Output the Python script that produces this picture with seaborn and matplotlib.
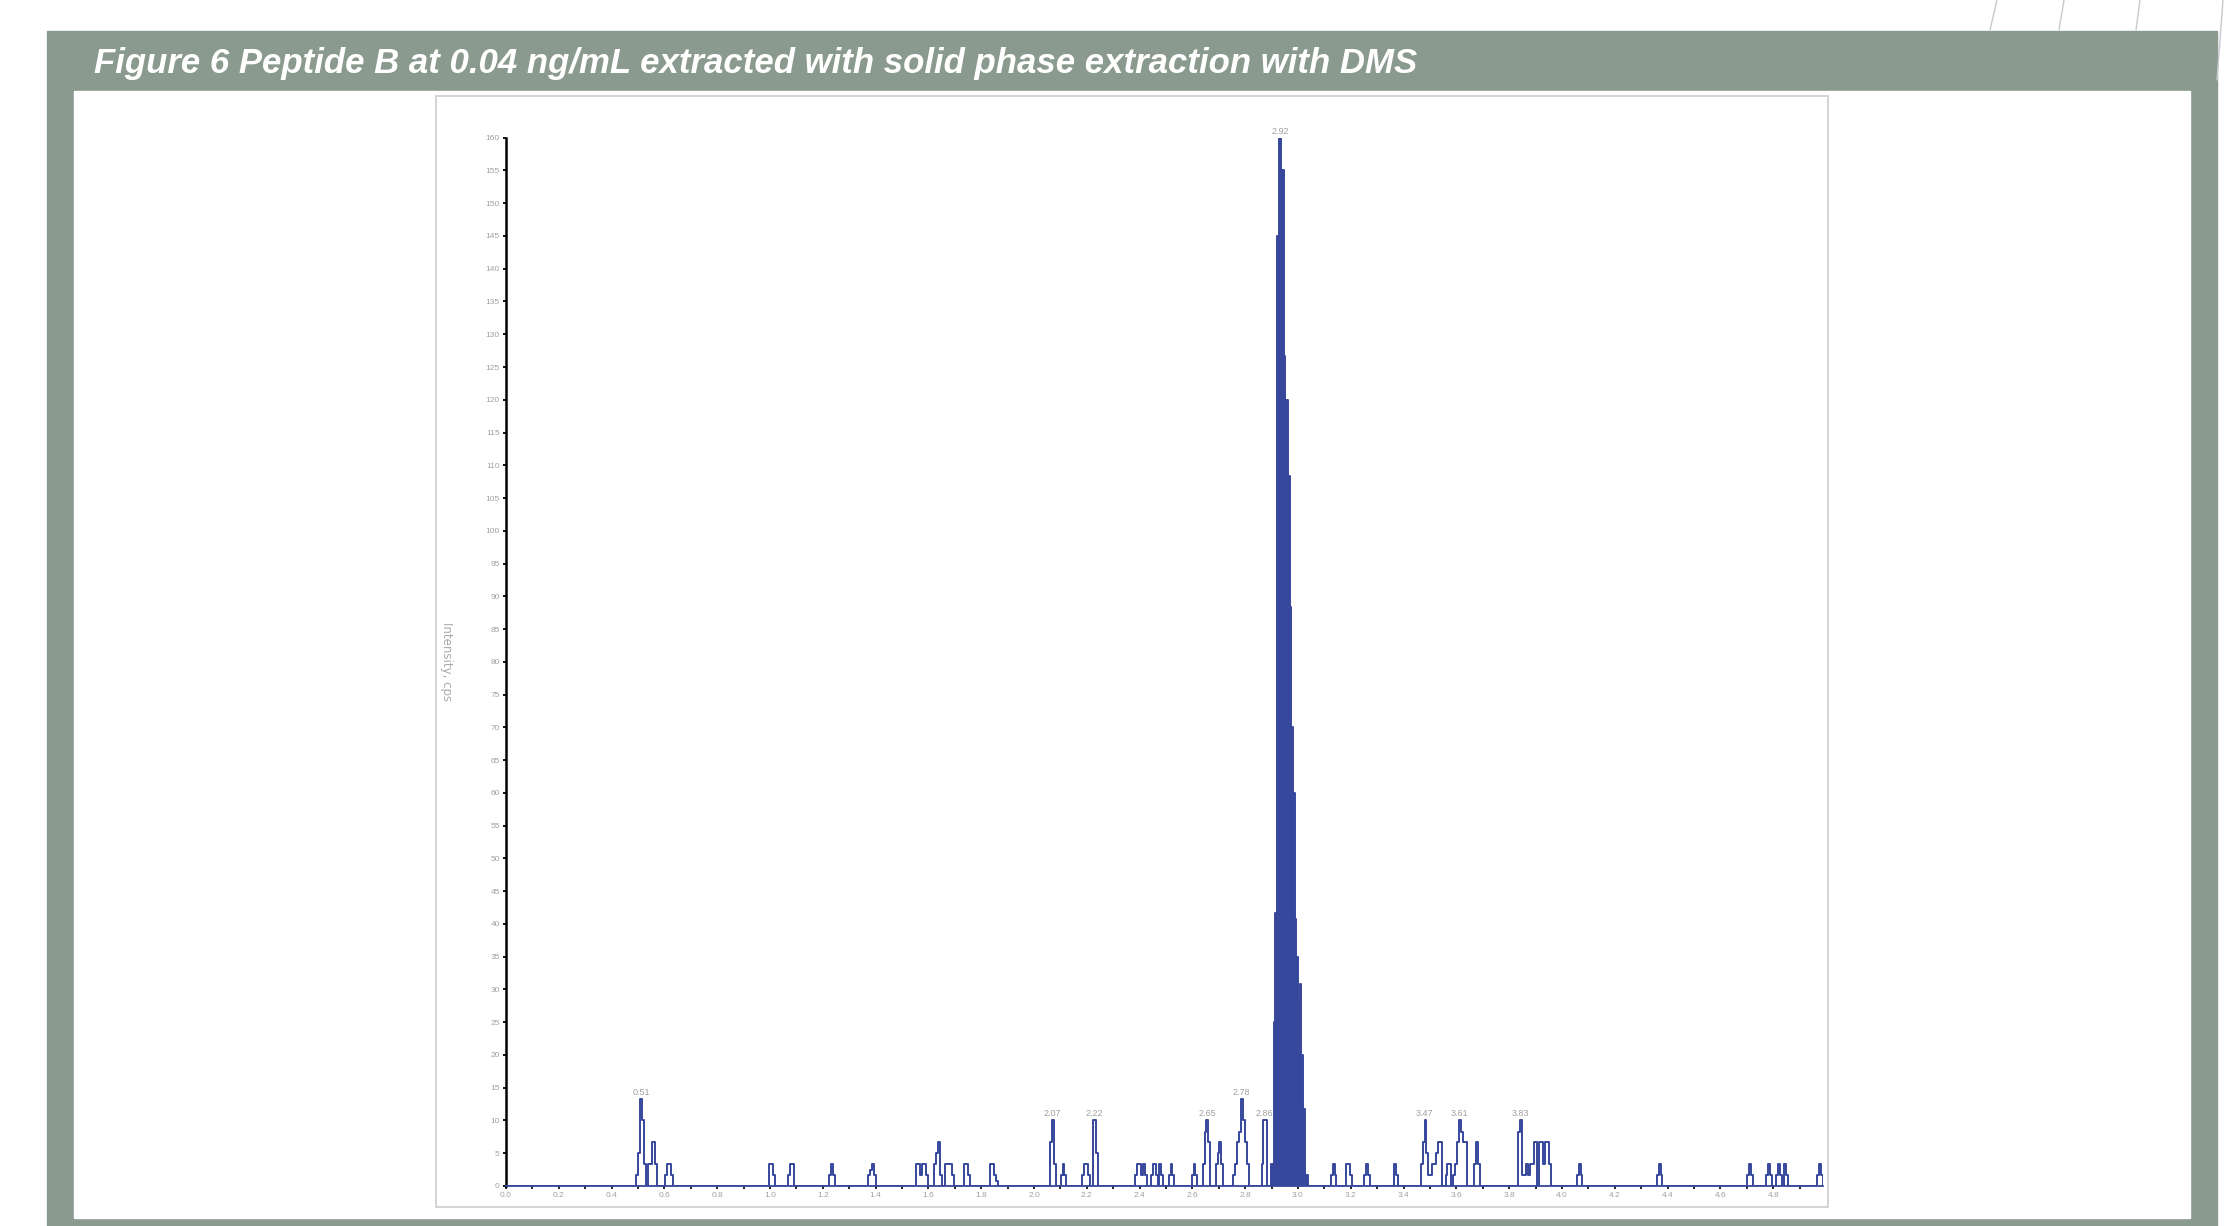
import matplotlib

matplotlib.use("Agg")
import matplotlib.pyplot as plt          # noqa: E402
import pandas as pd                      # noqa: E402
import seaborn as sns                    # noqa: E402
from matplotlib.lines import Line2D      # noqa: E402
from matplotlib.patches import Rectangle  # noqa: E402
from matplotlib.ticker import FormatStrFormatter, MultipleLocator  # noqa: E402

TITLE = "Figure 6 Peptide B at 0.04 ng/mL extracted with solid phase extraction with DMS"
Y_LABEL = "Intensity, cps"

# acquisition cycle of the XIC (min per point)
CYCLE = 0.0072

# noise spikes: start time (min) and the successive step intensities (cps)
NOISE_START = [
    0.494, 0.602, 0.996, 1.069, 1.225, 1.372, 1.554, 1.622, 1.661, 1.735,
    1.833, 2.062, 2.101, 2.182, 2.222, 2.383, 2.442, 2.474, 2.510, 2.597,
    2.639, 2.688, 2.755, 2.862, 3.124, 3.183, 3.251, 3.364, 3.465, 3.559,
    3.588, 3.667, 3.835, 4.056, 4.359, 4.702, 4.773, 4.810, 4.841, 4.967,
]
NOISE_STEPS = [
    [1.7, 5.0, 13.3, 10.0, 3.3, 0.0, 3.3, 3.3, 6.7, 6.7, 3.3],
    [1.7, 3.3, 3.3, 1.7],
    [3.3, 3.3, 1.7],
    [1.7, 3.3, 3.3],
    [1.7, 3.3, 1.7],
    [1.7, 2.5, 3.3, 1.7],
    [3.3, 3.3, 1.7, 3.3, 3.3, 1.7],
    [3.3, 5.0, 6.7, 1.7],
    [3.3, 3.3, 3.3, 3.3, 1.7],
    [3.3, 3.3, 1.7],
    [3.3, 3.3, 1.7, 0.8],
    [6.7, 10.0, 3.3],
    [1.7, 3.3, 1.7],
    [1.7, 3.3, 3.3, 1.7],
    [10.0, 10.0, 5.0],
    [1.7, 3.3, 3.3, 1.7, 3.3, 1.7],
    [1.7, 3.3, 3.3, 1.7],
    [3.3, 1.7],
    [1.7, 3.3, 1.7],
    [1.7, 3.3, 1.7],
    [3.3, 8.3, 10.0, 6.7],
    [3.3, 5.0, 6.7, 3.3],
    [1.7, 3.3, 6.7, 8.3, 13.3, 10.0, 6.7, 3.3],
    [3.3, 10.0, 10.0],
    [1.7, 3.3, 1.7],
    [3.3, 3.3, 1.7],
    [1.7, 3.3, 1.7],
    [3.3, 1.7],
    [3.3, 6.7, 10.0, 5.0, 1.7, 1.7, 3.3, 3.3, 5.0, 6.7, 6.7],
    [1.7, 3.3, 3.3],
    [1.7, 3.3, 6.7, 10.0, 8.3, 6.7, 6.7],
    [3.3, 6.7, 3.3],
    [8.3, 10.0, 1.7, 1.7, 3.3, 1.7, 3.3, 3.3, 6.7, 6.7, 0.0, 6.7, 6.7, 3.3, 6.7, 6.7, 3.3],
    [1.7, 3.3, 1.7],
    [1.7, 3.3, 1.7],
    [1.7, 3.3, 1.7],
    [1.7, 3.3, 1.7],
    [1.7, 3.3, 1.7],
    [3.3, 1.7],
    [1.7, 3.3, 1.7],
]

# integrated peak of peptide B (filled)
MAIN_T = [2.899, 2.908, 2.914, 2.920, 2.929, 2.937, 2.946, 2.952, 2.962, 2.969,
          2.973, 2.981, 2.987, 2.994, 3.000, 3.006, 3.013, 3.019, 3.028, 3.037]
MAIN_I = [3.3, 25.0, 41.7, 145.0, 160.0, 155.0, 126.7, 120.0, 108.3, 88.3,
          70.0, 60.0, 40.8, 35.0, 28.3, 30.8, 20.0, 11.7, 1.7, 0.0]

# retention time labels written above the apexes
LABEL_TEXT = ["0.51", "2.07", "2.22", "2.65", "2.78", "2.86", "2.92", "3.47", "3.61", "3.83"]
LABEL_T = [0.512, 2.069, 2.229, 2.657, 2.787, 2.872, 2.933, 3.479, 3.613, 3.842]
LABEL_I = [13.3, 10.0, 10.0, 10.0, 13.3, 10.0, 160.0, 10.0, 10.0, 10.0]

X_MAX = 4.99
Y_MAX = 160

BLUE = "#36479c"
FRAME = "#8b9a8f"
SOFT = "#a0a0a0"

W, H = 2239, 1226


def fx(px):
    return px / W


def fy(py):
    return 1 - py / H


def build_trace() -> pd.DataFrame:
    pts = [(0.0, 0.0)]
    for start, steps in zip(NOISE_START, NOISE_STEPS):
        for i, v in enumerate(steps):
            pts.append((start + i * CYCLE, v))
        pts.append((start + len(steps) * CYCLE, 0.0))
    pts += list(zip(MAIN_T, MAIN_I))
    pts.append((X_MAX, 0.0))
    pts.sort()
    return pd.DataFrame(pts, columns=["time", "intensity"])


def main() -> None:
    sns.set_style("white")
    plt.rcParams["font.family"] = ["Liberation Sans", "DejaVu Sans"]

    fig = plt.figure(figsize=(W / 100, H / 100), dpi=100)
    fig.patch.set_facecolor("white")

    # grey page frame with white inner panel
    fig.add_artist(Rectangle((fx(47), 0), fx(2217 - 47), (H - 31) / H,
                             transform=fig.transFigure, color=FRAME, zorder=-3))
    fig.add_artist(Rectangle((fx(74), fy(1218)), fx(2190 - 74), (1218 - 91) / H,
                             transform=fig.transFigure, color="white", zorder=-2))
    # chart box
    fig.add_artist(Rectangle((fx(436), fy(1207)), fx(1828 - 436), (1207 - 96) / H,
                             transform=fig.transFigure, facecolor="white",
                             edgecolor="#cdcdcd", lw=1.2, zorder=-1))
    # decorative hairlines top right
    for x0, y0, x1, y1 in [(1990, 30, 1997, 0), (2059, 30, 2064, 0),
                           (2136, 30, 2140, 0), (2217, 80, 2223, 0)]:
        fig.add_artist(Line2D([fx(x0), fx(x1)], [fy(y0), fy(y1)],
                              transform=fig.transFigure, color="#c6cacf", lw=1.0))

    fig.text(fx(94), fy(64), TITLE, color="white", fontsize=25,
             fontweight="bold", style="italic", ha="left", va="center")

    px_per_min = 264.0
    ax = fig.add_axes([fx(506), 40 / H, X_MAX * px_per_min / W, (1186 - 137.7) / H])
    ax.set_facecolor("none")

    trace = build_trace()
    sns.lineplot(data=trace, x="time", y="intensity", estimator=None, sort=False,
                 drawstyle="steps-post", color=BLUE, lw=1.4, ax=ax)
    ax.fill_between(MAIN_T, MAIN_I, step="post", color=BLUE, lw=0)

    for txt, t, v in zip(LABEL_TEXT, LABEL_T, LABEL_I):
        ax.annotate(txt, (t, v), xytext=(0, 1.5), textcoords="offset points",
                    ha="center", va="bottom", fontsize=6.5, color=SOFT)

    ax.set_xlim(0, X_MAX)
    ax.set_ylim(0, Y_MAX)
    ax.set_xlabel("")
    ax.set_ylabel("")
    for side in ("top", "right"):
        ax.spines[side].set_visible(False)
    ax.spines["left"].set_color("black")
    ax.spines["left"].set_linewidth(1.8)
    ax.spines["bottom"].set_color(BLUE)
    ax.spines["bottom"].set_linewidth(1.3)

    ax.yaxis.set_major_locator(MultipleLocator(5))
    ax.yaxis.set_major_formatter(FormatStrFormatter("%d"))
    ax.xaxis.set_major_locator(MultipleLocator(0.2))
    ax.xaxis.set_minor_locator(MultipleLocator(0.1))
    ax.xaxis.set_major_formatter(FormatStrFormatter("%.1f"))
    ax.tick_params(axis="y", which="major", direction="out", length=2.5, width=1.3,
                   color="black", labelsize=6, labelcolor=SOFT, pad=2, left=True)
    ax.tick_params(axis="x", which="both", direction="out", length=2, width=1.2,
                   color="black", labelsize=6, labelcolor=SOFT, pad=2.5, bottom=True)

    fig.text(fx(447), fy(662), Y_LABEL, rotation=270, fontsize=8.5, color="#aaaaaa",
             family="DejaVu Sans", ha="center", va="center")

    fig.savefig("out.png", dpi=100)
    plt.close(fig)


if __name__ == "__main__":
    main()
